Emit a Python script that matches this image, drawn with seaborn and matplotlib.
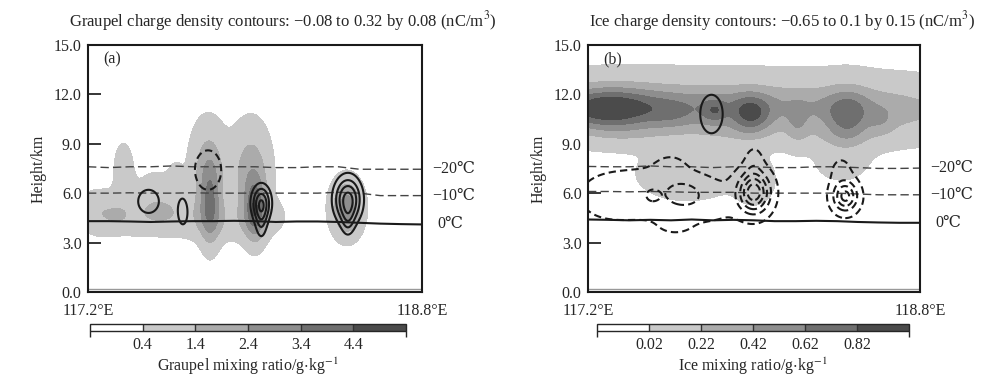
import numpy as np
import seaborn as sns
import matplotlib.pyplot as plt
from matplotlib.colors import ListedColormap, BoundaryNorm
from matplotlib.cm import ScalarMappable

# isotherm heights (km) along the section
iso_lon = [117.2, 117.3, 117.4, 117.5, 117.6, 117.7, 117.8, 117.9, 118.0,
           118.1, 118.2, 118.3, 118.4, 118.5, 118.6, 118.7, 118.8]
a_t20 = [7.6, 7.55, 7.6, 7.6, 7.65, 7.6, 7.6, 7.6, 7.6, 7.55, 7.55, 7.6, 7.6, 7.45, 7.45, 7.45, 7.45]
a_t10 = [6.0, 6.0, 6.02, 6.0, 6.0, 6.02, 6.0, 6.0, 6.0, 6.0, 6.0, 6.0, 6.05, 6.0, 5.85, 5.85, 5.85]
a_t0 = [4.3, 4.3, 4.28, 4.25, 4.28, 4.3, 4.3, 4.32, 4.3, 4.25, 4.28, 4.28, 4.25, 4.2, 4.15, 4.12, 4.1]
b_t20 = [7.62, 7.6, 7.6, 7.65, 7.6, 7.6, 7.55, 7.6, 7.6, 7.55, 7.55, 7.6, 7.6, 7.55, 7.5, 7.5, 7.52]
b_t10 = [6.1, 6.1, 6.08, 6.1, 6.08, 6.05, 6.05, 6.05, 6.0, 6.0, 6.0, 6.0, 6.0, 5.95, 5.9, 5.9, 5.9]
b_t0 = [4.4, 4.38, 4.35, 4.38, 4.35, 4.4, 4.35, 4.38, 4.35, 4.3, 4.3, 4.32, 4.3, 4.25, 4.22, 4.2, 4.2]
terrain_km = 0.2

# graupel mixing ratio cells (g/kg): centre lon, centre height, half-widths, peak
qg_lon = [117.24, 117.37, 117.35, 117.58, 117.85, 118.08, 117.53, 117.62, 117.34, 117.54,
          117.775, 117.785, 117.98, 118.0, 118.44]
qg_hgt = [4.9, 7.5, 4.7, 4.7, 4.3, 4.6, 6.5, 7.0, 4.65, 4.9,
          7.4, 5.3, 7.3, 5.0, 5.1]
qg_sx = [0.06, 0.035, 0.12, 0.12, 0.14, 0.05, 0.07, 0.025, 0.035, 0.06,
         0.06, 0.032, 0.065, 0.035, 0.05]
qg_sh = [0.9, 1.2, 0.95, 0.95, 0.85, 0.7, 0.8, 0.8, 0.35, 0.55,
         2.0, 1.7, 2.0, 1.3, 1.15]
qg_peak = [0.75, 0.9, 0.8, 0.8, 0.8, 0.6, 0.6, 0.5, 0.6, 0.65,
           1.8, 2.4, 1.9, 3.2, 3.0]

# graupel charge density cells (nC/m3)
rg_lon = [117.49, 117.655, 117.775, 118.03, 118.03, 118.445, 118.445]
rg_hgt = [5.5, 4.95, 7.4, 5.4, 4.2, 5.6, 4.3]
rg_sx = [0.055, 0.027, 0.07, 0.032, 0.02, 0.045, 0.022]
rg_sh = [0.78, 0.95, 1.33, 0.75, 0.8, 0.95, 0.7]
rg_peak = [0.12, 0.12, -0.12, 0.30, 0.12, 0.35, 0.1]

# ice mixing ratio cells (g/kg)
qi_lon = [117.25, 117.55, 117.85, 118.15, 118.45, 118.75, 117.29, 117.6, 117.81, 117.78,
          117.985, 118.21, 118.45, 118.615, 117.68, 118.0, 118.42, 117.4, 117.9, 118.4]
qi_hgt = [11.3, 11.3, 11.3, 11.2, 11.2, 11.0, 11.1, 10.8, 11.0, 10.9,
          10.8, 10.2, 10.6, 10.3, 7.2, 6.8, 8.0, 9.6, 9.6, 9.4]
qi_sx = [0.25, 0.25, 0.25, 0.25, 0.25, 0.25, 0.17, 0.08, 0.04, 0.1,
         0.065, 0.035, 0.07, 0.045, 0.15, 0.06, 0.08, 0.15, 0.15, 0.15]
qi_sh = [1.0, 1.0, 1.0, 1.0, 1.0, 1.0, 0.85, 0.7, 0.5, 0.9,
         0.8, 0.8, 1.1, 0.6, 1.0, 0.9, 0.8, 0.5, 0.5, 0.5]
qi_peak = [0.2, 0.2, 0.2, 0.2, 0.2, 0.18, 0.75, 0.2, 0.3, 0.12,
           0.55, 0.2, 0.45, 0.15, 0.08, 0.08, 0.06, 0.1, 0.1, 0.1]

# ice charge density cells (nC/m3)
ri_lon = [117.795, 118.0, 118.44, 118.42, 117.3, 117.55, 117.8, 118.0, 117.51, 117.66,
          117.6, 117.62]
ri_hgt = [10.8, 6.05, 5.8, 7.3, 5.8, 6.0, 5.5, 7.8, 5.85, 5.95,
          7.6, 4.0]
ri_sx = [0.06, 0.05, 0.04, 0.04, 0.12, 0.14, 0.12, 0.03, 0.025, 0.072,
         0.05, 0.06]
ri_sh = [1.3, 0.8, 0.6, 0.7, 1.1, 1.2, 1.0, 0.7, 0.3, 0.67,
         0.5, 0.4]
ri_peak = [0.15, -0.75, -0.55, -0.08, -0.09, -0.1, -0.08, -0.1, -0.14, -0.16,
           -0.06, -0.05]

qg_levels = [0.4, 1.4, 2.4, 3.4, 4.4]
qi_levels = [0.02, 0.22, 0.42, 0.62, 0.82]
rg_levels = [-0.08, 0.08, 0.16, 0.24, 0.32]
ri_levels = [-0.65, -0.5, -0.35, -0.2, -0.05, 0.1]
grays = ['#ffffff', '#c9c9c9', '#ababab', '#8e8e8e', '#6f6f6f', '#4b4b4b']

sns.set_theme(style="ticks")
plt.rcParams['font.family'] = ['Liberation Serif', 'DejaVu Serif', 'DejaVu Sans', 'Noto Sans CJK SC']
plt.rcParams['mathtext.fontset'] = 'stix'

lon = np.linspace(117.2, 118.8, 401)
hgt = np.linspace(0, 15, 376)
L, H = np.meshgrid(lon, hgt)


def field(x0, z0, sx, sz, amp):
    f = np.zeros_like(L)
    for a, b, c, d, e in zip(x0, z0, sx, sz, amp):
        f += e * np.exp(-0.5 * ((L - a) / c) ** 2 - 0.5 * ((H - b) / d) ** 2)
    return f


fig = plt.figure(figsize=(10, 3.82), dpi=100)
ax_a = fig.add_axes([0.088, 0.2356, 0.334, 0.647])
ax_b = fig.add_axes([0.588, 0.2356, 0.332, 0.647])

panels = [
    (ax_a, field(qg_lon, qg_hgt, qg_sx, qg_sh, qg_peak), qg_levels,
     field(rg_lon, rg_hgt, rg_sx, rg_sh, rg_peak), rg_levels, (a_t20, a_t10, a_t0), '(a)'),
    (ax_b, field(qi_lon, qi_hgt, qi_sx, qi_sh, qi_peak), qi_levels,
     field(ri_lon, ri_hgt, ri_sx, ri_sh, ri_peak), ri_levels, (b_t20, b_t10, b_t0), '(b)'),
]

for ax, q, qlev, rho, rlev, iso, tag in panels:
    ax.contourf(lon, hgt, q, levels=qlev + [1e3], colors=grays[1:])
    for t, ls, lw, col in zip(iso, [(0, (6, 3)), (0, (6, 3)), '-'], [1.0, 1.0, 1.5], ['#444444', '#444444', 'k']):
        sns.lineplot(x=iso_lon, y=t, ax=ax, color=col, lw=lw, linestyle=ls, legend=False)
    ax.contour(lon, hgt, rho, levels=rlev, colors='k', linewidths=1.5,
               linestyles=[(0, (3.5, 2)) if v < 0 else '-' for v in rlev])
    ax.axhline(terrain_km, color='0.6', lw=1)
    ax.set_xlim(117.2, 118.8)
    ax.set_ylim(0, 15)
    ax.set_yticks([0, 3, 6, 9, 12, 15])
    ax.set_yticklabels(['0.0', '3.0', '6.0', '9.0', '12.0', '15.0'])
    ax.set_xticks([117.2, 118.8])
    ax.set_xticklabels(['117.2°E', '118.8°E'])
    ax.tick_params(axis='y', direction='in', length=9, width=1.3, pad=4.5, labelsize=11.5)
    ax.tick_params(axis='x', length=0, pad=8, labelsize=11.5)
    for s in ax.spines.values():
        s.set_linewidth(1.5)
        s.set_color('k')
    ax.set_xlabel('')
    ax.set_ylabel('Height/km', fontsize=11.5, labelpad=5)
    ax.text(0.045, 0.975, tag, transform=ax.transAxes, fontsize=11.5, va='top')
    ax.text(118.848, iso[0][-1], '−20℃', fontsize=11.5, va='center', clip_on=False)
    ax.text(118.848, iso[1][-1], '−10℃', fontsize=11.5, va='center', clip_on=False)
    ax.text(118.872, iso[2][-1], '0℃', fontsize=11.5, va='center', clip_on=False)

fig.text(0.283, 0.945, 'Graupel charge density contours: −0.08 to 0.32 by 0.08 (nC/m$^3$)',
         ha='center', va='center', fontsize=12)
fig.text(0.782, 0.945, 'Ice charge density contours: −0.65 to 0.1 by 0.15 (nC/m$^3$)',
         ha='center', va='center', fontsize=12)

for rect, lev, lab in [([0.090, 0.1335, 0.316, 0.018], qg_levels, 'Graupel mixing ratio/g$\\cdot$kg$^{-1}$'),
                       ([0.597, 0.1335, 0.312, 0.018], qi_levels, 'Ice mixing ratio/g$\\cdot$kg$^{-1}$')]:
    cax = fig.add_axes(rect)
    step = lev[1] - lev[0]
    bounds = [lev[0] - step] + lev + [lev[-1] + step]
    sm = ScalarMappable(norm=BoundaryNorm(bounds, 6), cmap=ListedColormap(grays))
    cb = fig.colorbar(sm, cax=cax, orientation='horizontal', drawedges=True, ticks=lev)
    cb.ax.set_xticklabels([f'{v:g}' for v in lev])
    cb.outline.set_linewidth(1.0)
    cb.dividers.set_color('#333333')
    cb.dividers.set_linewidth(1.0)
    cb.ax.tick_params(length=0, pad=4, labelsize=11.5)
    cb.set_label(lab, fontsize=11.5, labelpad=2)

fig.savefig('out.png', dpi=100)
